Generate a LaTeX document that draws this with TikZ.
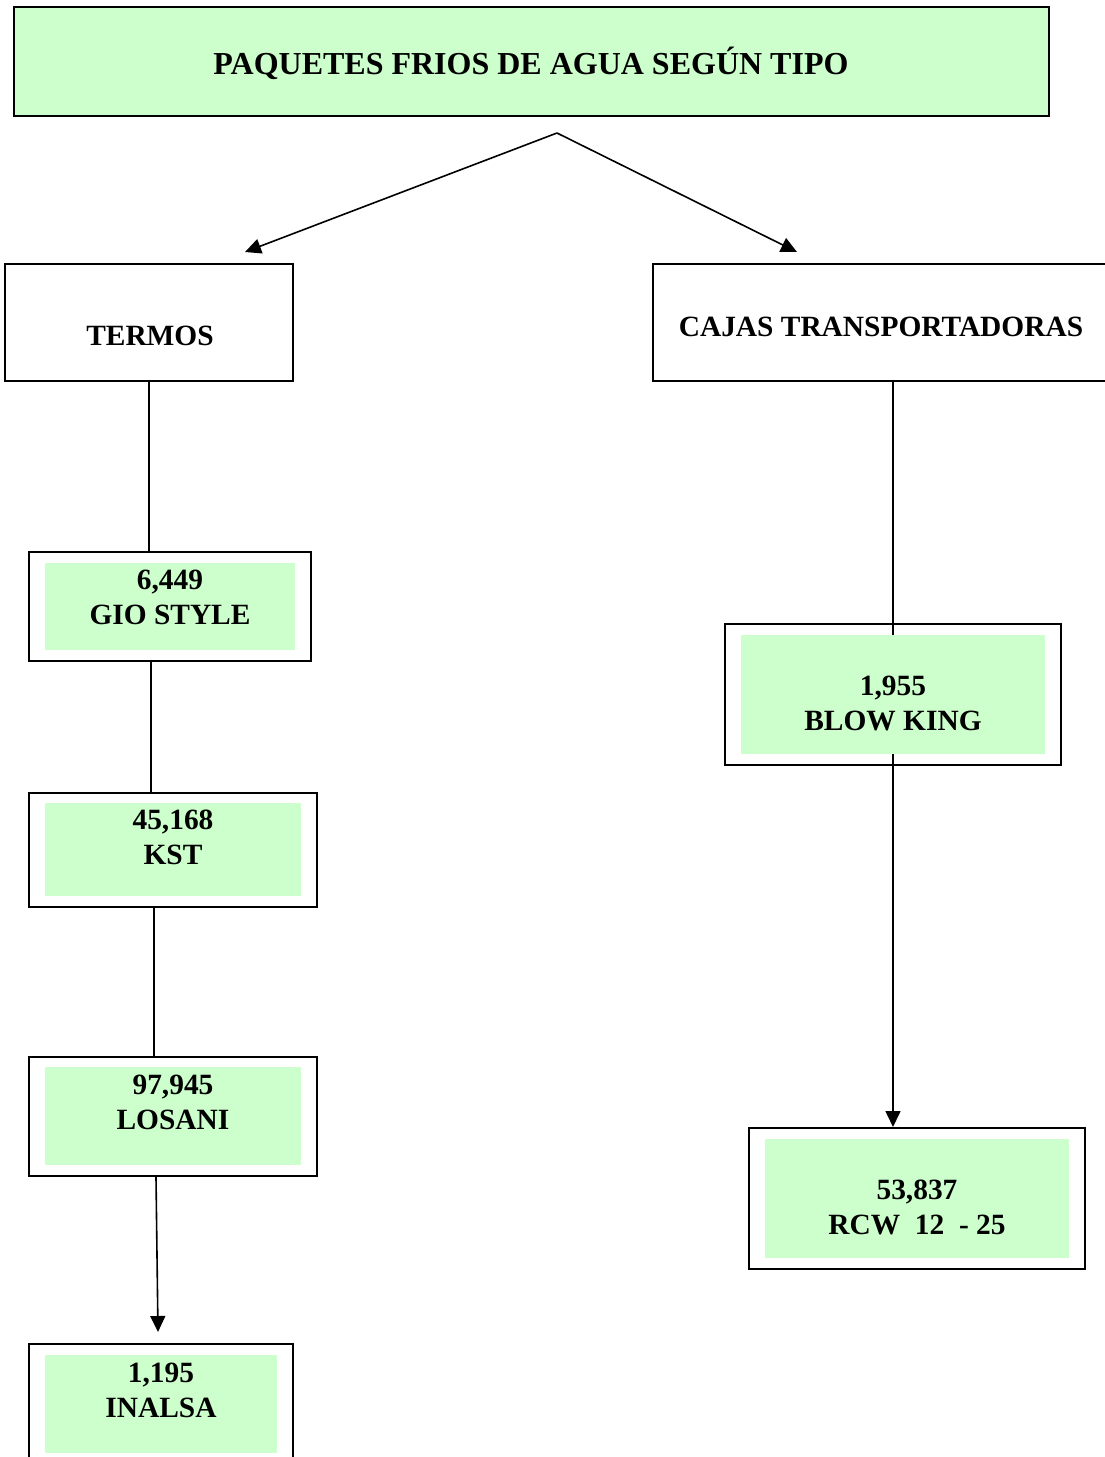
\documentclass[tikz,border=0pt]{standalone}
\usepackage{fontspec}
\setmainfont{Liberation Serif}
\usetikzlibrary{fit,arrows.meta}
\definecolor{lgreen}{HTML}{CCFFCC}
\begin{document}
\begin{tikzpicture}[x=0.5pt,y=-0.5pt,
  obox/.style={draw=black,line width=1pt,inner sep=0pt},
  ibox/.style={fill=lgreen,draw=none,inner sep=0pt},
  lbl/.style={font=\bfseries\fontsize{14.7}{17.5}\selectfont,align=center,inner sep=0pt},
  conn/.style={draw=black,line width=0.8pt},
  arr/.style={conn,-{Triangle[length=8pt,width=7.5pt]}}]
\useasboundingbox (0,0) rectangle (1104,1457);
% title
\node[obox,fill=lgreen,fit={(14,7) (1049,116)}] (title) {};
\node[lbl,font=\bfseries\fontsize{16}{19}\selectfont] (ttl) at (531,63) {PAQUETES FRIOS DE AGUA SEGÚN TIPO};
\coordinate (apex) at (557,133);
\coordinate (lt) at (245,252);
\coordinate (rt) at (797,252);
\draw[arr] (apex) -- (lt);
\draw[arr] (apex) -- (rt);
% level 1
\node[obox,fit={(5,264) (293,381)}] (termos) {};
\node[lbl] (termost) at (150,336) {TERMOS};
\node[obox,fit={(653,264) (1120,381)}] (cajas) {};
\node[lbl] (cajast) at (881,327) {CAJAS TRANSPORTADORAS};
% left column
\node[obox,fit={(29,552) (311,661)}] (gio) {};
\node[ibox,fit={(45,563) (295,650)}] (gioin) {};
\node[lbl] (giot) at (170,597.5) {6,449\\GIO STYLE};
\node[obox,fit={(29,793) (317,907)}] (kst) {};
\node[ibox,fit={(45,803) (301,896)}] (kstin) {};
\node[lbl] (kstt) at (173,837.5) {45,168\\KST};
\node[obox,fit={(29,1057) (317,1176)}] (los) {};
\node[ibox,fit={(45,1067) (301,1165)}] (losin) {};
\node[lbl] (lost) at (173,1102) {97,945\\LOSANI};
\node[obox,fit={(29,1344) (293,1475)}] (ina) {};
\node[ibox,fit={(45,1355) (277,1453)}] (inain) {};
\node[lbl] (inat) at (161,1390) {1,195\\INALSA};
\coordinate (inatip) at (158,1332);
\draw[conn] (termos.south) -- (termos.south |- gio.north);
\draw[conn] ([xshift=1pt]termos.south |- gio.south) -- ([xshift=1pt]termos.south |- kst.north);
\draw[conn] ([xshift=2.5pt]termos.south |- kst.south) -- ([xshift=2.5pt]termos.south |- los.north);
\draw[arr] ([xshift=3.5pt]termos.south |- los.south) -- (inatip);
% right column
\node[obox,fit={(725,624) (1061,765)}] (bk) {};
\node[ibox,fit={(741,635) (1045,754)}] (bkin) {};
\node[lbl] (bkt) at (893,703) {1,955\\BLOW KING};
\node[obox,fit={(749,1128) (1085,1269)}] (rcw) {};
\node[ibox,fit={(765,1139) (1069,1258)}] (rcwin) {};
\node[lbl] (rcwt) at (917,1207.5) {53,837\\RCW\ \ 12\ \ - 25};
\draw[conn] (bk.north |- cajas.south) -- (bkin.north);
\draw[arr] (bkin.south) -- (bkin.south |- rcw.north);
\end{tikzpicture}
\end{document}
